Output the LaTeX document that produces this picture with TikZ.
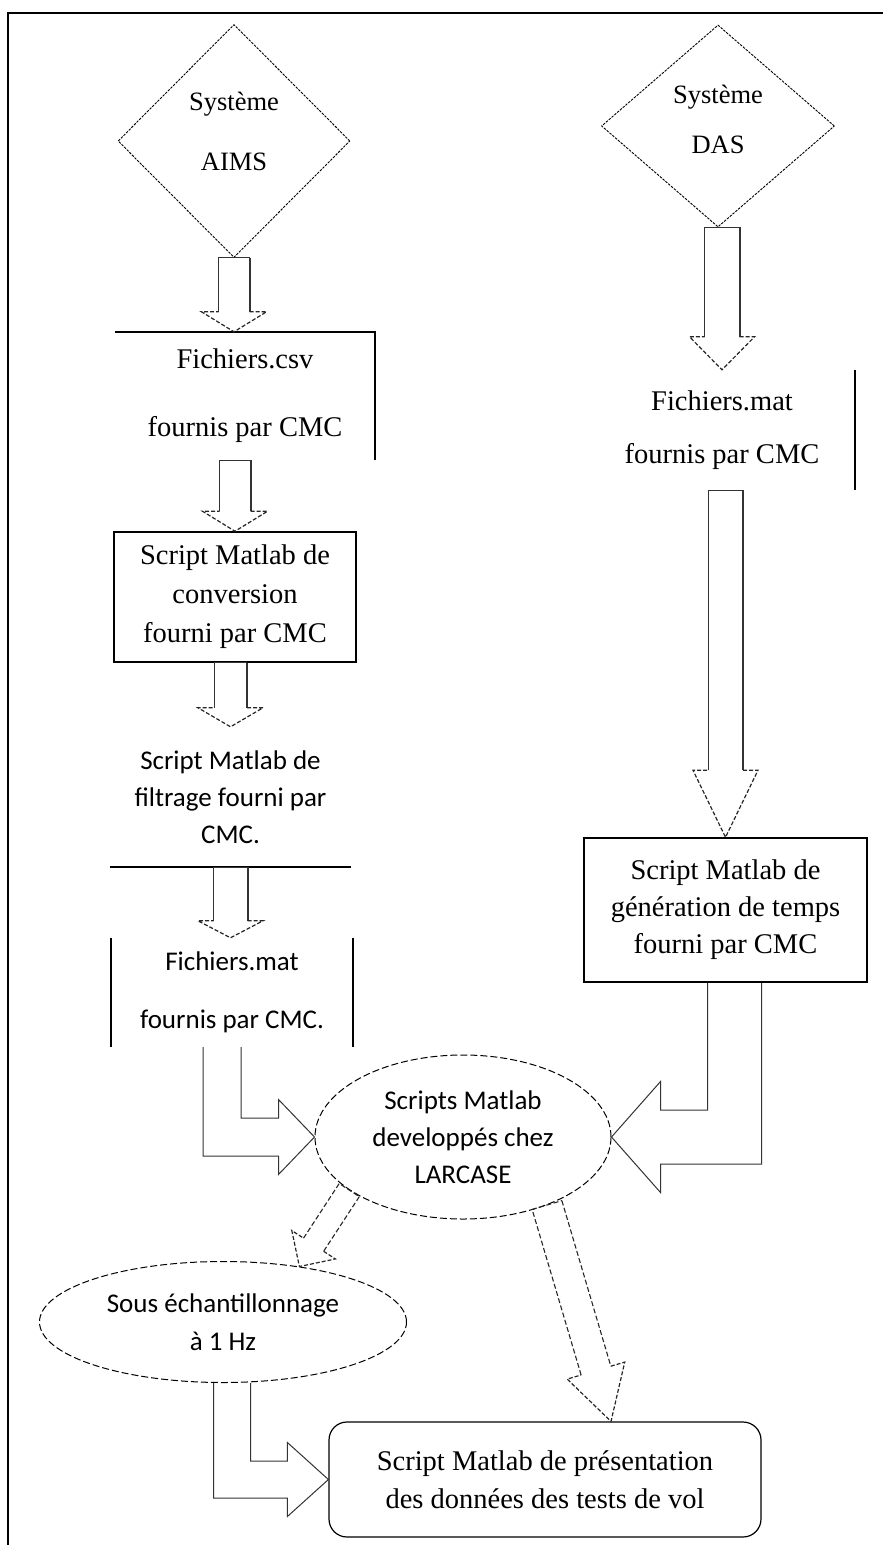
\documentclass[tikz,border=0pt]{standalone}
\usepackage{fontspec}
\setmainfont{Liberation Serif}
\newfontfamily\calibri{Carlito}
\usetikzlibrary{shapes.geometric,calc}

% block arrow: [shaft style]{from}{to}{shaft half width}{head half width}{head length}
\newcommand{\fatarrow}[6][fatline]{%
  \coordinate (hb) at ($(#3)!#6pt!(#2)$);
  \draw[#1] ($(hb)!#4pt!-90:(#3)$) -- ($(#2)!#4pt!-90:(#3)$) -- ($(#2)!#4pt!90:(#3)$);
  \draw[#1,#1 shadow] ($(#2)!#4pt!90:(#3)$) -- ($(hb)!#4pt!90:(#3)$);
  \draw[fathead] ($(hb)!#4pt!90:(#3)$) -- ($(hb)!#5pt!90:(#3)$) -- (#3)
    -- ($(hb)!#5pt!-90:(#3)$) -- ($(hb)!#4pt!-90:(#3)$);
}
% bent block arrow: {from}{to}{shaft half width}{head half width}{head length}{1 right, -1 left}
\newcommand{\elbowarrow}[6]{%
  \draw[fatline] ($(#1)+({-(#6)*#3},0)$) -- ($(#1 |- #2)+({-(#6)*#3},#3)$)
    -- ($(#2)+({-(#6)*#5},#3)$) -- ($(#2)+({-(#6)*#5},#4)$) -- (#2)
    -- ($(#2)+({-(#6)*#5},-#4)$) -- ($(#2)+({-(#6)*#5},-#3)$)
    -- ($(#1 |- #2)+({(#6)*#3},-#3)$) -- ($(#1)+({(#6)*#3},0)$);
}

\begin{document}
\begin{tikzpicture}[x=1pt, y=-1pt,
	frameline/.style={line width=2.5pt},
	boxline/.style={line width=1.5pt},
	txt/.style={font=\fontsize{28.5}{#1}\selectfont, align=center, inner sep=0pt},
	sans/.style={font=\calibri\fontsize{27}{#1}\selectfont, align=center, inner sep=0pt},
	sysdiamond/.style={diamond, draw, dash pattern=on 2.5pt off 1.2pt, line width=0.9pt, inner sep=0pt},
	systxt/.style={font=\fontsize{26.5}{#1}\selectfont, align=center, inner sep=0pt},
	bubble/.style={ellipse, draw, dash pattern=on 7pt off 3pt, line width=1pt},
	fatline/.style={draw=black!80, line width=1pt},
	fatline shadow/.style={line width=2pt},
	dashshaft/.style={draw=black!85, line width=1.1pt, dash pattern=on 5pt off 2.5pt},
	dashshaft shadow/.style={},
	fathead/.style={draw=black!85, line width=1.2pt, dash pattern=on 4pt off 2pt}]
		\useasboundingbox (0,0) rectangle (883,1545);
		\draw[frameline] (8,1545) -- (8,13) -- (883,13);
		% left column
		\node[sysdiamond, minimum width=232pt, minimum height=233pt] (aims) at (234,141) {};
		\node[systxt=60] (aimstxt) at (234,131) {Système\\AIMS};
		\node[txt=68, minimum width=260pt, minimum height=128pt] (csv) at (245,396) {Fichiers.csv\\fournis par CMC};
		\node[txt=39, draw, boxline, minimum width=242pt, minimum height=130pt] (conv) at (235,597) {Script Matlab de\\conversion\\fourni par CMC};
		\node[sans=37, minimum width=241pt, minimum height=140pt] (filt) at (230.5,797) {Script Matlab de\\filtrage fourni par\\CMC.};
		\node[sans=58, minimum width=242pt, minimum height=109pt] (matL) at (232,992.5) {Fichiers.mat\\fournis par CMC.};
		% right column
		\node[sysdiamond, minimum width=233pt, minimum height=202pt] (das) at (718,126) {};
		\node[systxt=50] (dastxt) at (718,119) {Système\\DAS};
		\node[txt=53, minimum width=266pt, minimum height=120pt] (matR) at (722,430) {Fichiers.mat\\fournis par CMC};
		\node[txt=37, draw, boxline, minimum width=283pt, minimum height=144pt] (gen) at (725.5,910) {Script Matlab de\\génération de temps\\fourni par CMC};
		% bottom
		\node[bubble, sans=37, minimum width=296pt, minimum height=164pt] (larc) at (463,1137) {Scripts Matlab\\developpés chez\\LARCASE};
		\node[bubble, sans=38, minimum width=367pt, minimum height=121pt] (sous) at (223,1322) {Sous échantillonnage\\à 1 Hz};
		\node[txt=38, draw, line width=1.2pt, rounded corners=18pt, minimum width=432pt, minimum height=115pt] (pres) at (545,1479.5) {Script Matlab de présentation\\des données des tests de vol};
		% open borders
		\draw[boxline] (csv.north west) -- (csv.north east) -- (csv.south east);
		\draw[boxline] (filt.south west) -- (filt.south east);
		\draw[boxline] (matL.north west) -- (matL.south west) (matL.north east) -- (matL.south east);
		\draw[boxline] (matR.north east) -- (matR.south east);
		% straight block arrows
		\fatarrow{aims.south}{aims.south |- csv.north}{15.5}{32.5}{20}
		\fatarrow{conv.north |- csv.south}{conv.north}{15.5}{32.5}{20}
		\fatarrow{filt.north |- conv.south}{filt.north}{16.5}{32.5}{19}
		\fatarrow{filt.south}{filt.south |- matL.north}{17}{32.5}{17}
		\fatarrow{matR.north |- das.south}{matR.north}{17.5}{32.5}{33}
		\fatarrow{gen.north |- matR.south}{gen.north}{17.5}{32.5}{67}
		\coordinate (prestop) at ($(pres.north)+(66,0)$);
		\fatarrow[dashshaft]{larc.205}{sous.36}{12}{26}{26}
		\fatarrow[dashshaft]{larc.-39}{prestop}{15.5}{30}{53}
		% bent block arrows
		\coordinate (matLout) at ($(matL.south)+(-10,0)$);
		\coordinate (genout) at ($(gen.south)+(9,0)$);
		\coordinate (sousout) at ($(sous.south)+(9,0)$);
		\elbowarrow{matLout}{larc.west}{19}{37.5}{36}{1}
		\elbowarrow{genout}{larc.east}{27}{55.5}{49}{-1}
		\elbowarrow{sousout}{pres.west}{18.5}{37}{41}{1}
	\end{tikzpicture}
\end{document}
